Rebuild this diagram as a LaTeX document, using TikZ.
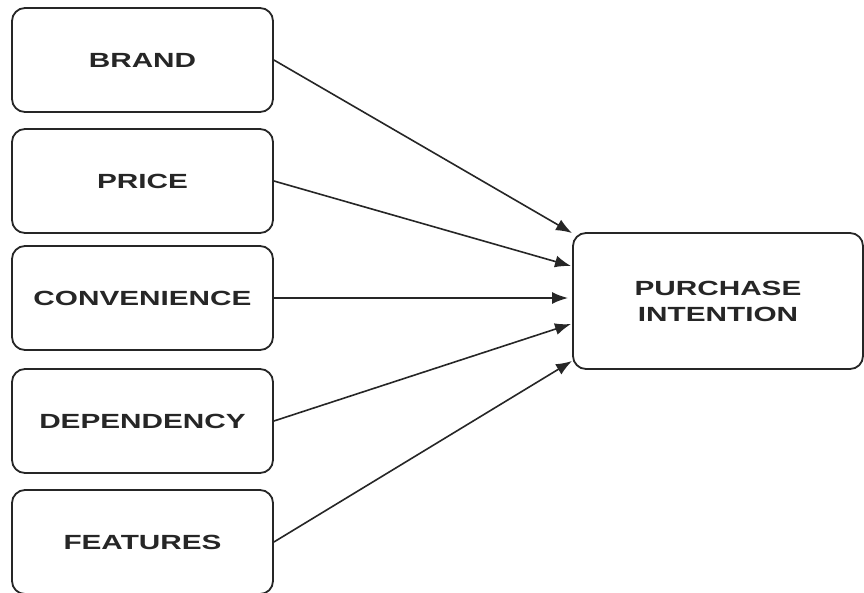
\documentclass[tikz,border=0pt]{standalone}
\usepackage{fontspec}
\setmainfont{Liberation Sans}[FakeStretch=1.45]
\usetikzlibrary{arrows.meta}
\begin{document}
\begin{tikzpicture}[x=1pt,y=-1pt,
  factor/.style={draw=black!85,line width=1.8pt,rounded corners=13pt,
    minimum width=261pt,minimum height=104pt,inner sep=0pt,
    font=\fontsize{20.5}{26}\selectfont\bfseries,text=black!85,align=center},
  link/.style={draw=black!85,line width=1.6pt,-{Latex[length=16pt,width=12pt]}}]
\useasboundingbox (0,0) rectangle (864,592);
\fill[white] (0,0) rectangle (864,592);
\node[factor] (brand) at (142.5,60) {BRAND};
\node[factor] (price) at (142.5,181) {PRICE};
\node[factor] (conv) at (142.5,298) {CONVENIENCE};
\node[factor] (dep) at (142.5,421) {DEPENDENCY};
\node[factor] (feat) at (142.5,542) {FEATURES};
\node[factor,minimum width=290pt,minimum height=136pt] (pi) at (718,301) {PURCHASE\\INTENTION};
\coordinate (t1) at (572,233);
\coordinate (t2) at (571,266);
\coordinate (t3) at (568,298);
\coordinate (t4) at (571,324);
\coordinate (t5) at (572,361);
\draw[link] (brand.east) -- (t1);
\draw[link] (price.east) -- (t2);
\draw[link] (conv.east) -- (t3);
\draw[link] (dep.east) -- (t4);
\draw[link] (feat.east) -- (t5);
\end{tikzpicture}
\end{document}
